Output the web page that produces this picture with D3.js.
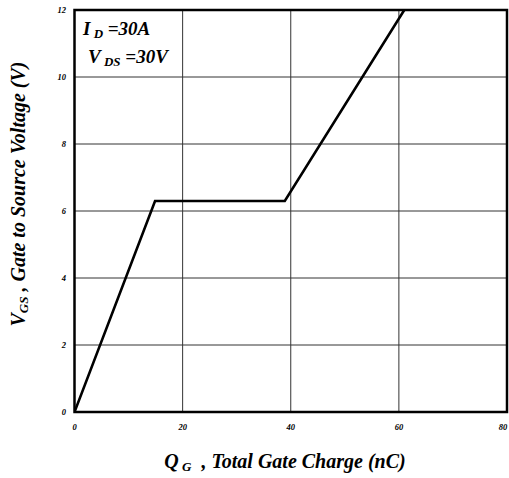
<!DOCTYPE html>
<html><head><meta charset="utf-8">
<script src="https://cdn.jsdelivr.net/npm/d3@7"></script>
<style>body{margin:0;background:#fff}</style>
</head><body>
<svg id="c" width="509" height="478"></svg>
<script>
const qg = [0, 14.9, 38.9, 61];
const vgs = [0, 6.3, 6.3, 12];
const xTicks = [0, 20, 40, 60, 80];
const yTicks = [0, 2, 4, 6, 8, 10, 12];

const svg = d3.select("#c");
const L = 74.5, R = 507, T = 10, B = 412;
const x = d3.scaleLinear().domain([0, 80]).range([L, R]);
const y = d3.scaleLinear().domain([0, 12]).range([B, T]);
const font = "'Liberation Serif','Times New Roman',serif";

const g = svg.append("g");
// grid
g.selectAll(".gx").data(xTicks.slice(1, -1)).enter().append("line")
  .attr("x1", d => x(d)).attr("x2", d => x(d)).attr("y1", T).attr("y2", B)
  .attr("stroke", "#333").attr("stroke-width", 1);
g.selectAll(".gy").data(yTicks.slice(1, -1)).enter().append("line")
  .attr("y1", d => y(d)).attr("y2", d => y(d)).attr("x1", L).attr("x2", R)
  .attr("stroke", "#333").attr("stroke-width", 1);

// curve
const pts = qg.map((q, i) => [q, vgs[i]]);
svg.append("defs").append("clipPath").attr("id", "cp").append("rect")
  .attr("x", L).attr("y", T).attr("width", R - L).attr("height", B - T);
g.append("path").datum(pts)
  .attr("d", d3.line().x(d => x(d[0])).y(d => y(d[1])))
  .attr("fill", "none").attr("stroke", "#000").attr("stroke-width", 2.6)
  .attr("stroke-linejoin", "miter").attr("clip-path", "url(#cp)");

// border
g.append("rect").attr("x", L).attr("y", T).attr("width", R - L).attr("height", B - T)
  .attr("fill", "none").attr("stroke", "#000").attr("stroke-width", 2.5);

// tick labels
svg.selectAll(".yt").data(yTicks).enter().append("text")
  .attr("x", 66).attr("y", d => y(d) + 3)
  .attr("text-anchor", "end").attr("font-family", font).attr("font-size", 8.5)
  .attr("font-weight", "bold").attr("font-style", "italic").text(d => d);
svg.selectAll(".xt").data(xTicks).enter().append("text")
  .attr("x", d => Math.min(x(d), 503)).attr("y", 430)
  .attr("text-anchor", "middle").attr("font-family", font).attr("font-size", 8.5)
  .attr("font-weight", "bold").attr("font-style", "italic").text(d => d);

// axis titles
const xt = svg.append("text").attr("x", 285).attr("y", 468).attr("text-anchor", "middle")
  .attr("font-family", font).attr("font-size", 20).attr("font-weight", "bold").attr("font-style", "italic");
xt.append("tspan").text("Q");
xt.append("tspan").attr("font-size", 13).attr("dy", 3).text(" G");
xt.append("tspan").attr("dy", -3).text("\u00a0\u00a0, Total Gate Charge (nC)");

const yt = svg.append("text").attr("transform", "translate(25,194) rotate(-90)").attr("text-anchor", "middle")
  .attr("font-family", font).attr("font-size", 20).attr("font-weight", "bold").attr("font-style", "italic");
yt.append("tspan").text("V");
yt.append("tspan").attr("font-size", 13).attr("dy", 3).text("GS");
yt.append("tspan").attr("dy", -3).text(" , Gate to Source Voltage (V)");

// annotations
const a1 = svg.append("text").attr("x", 83).attr("y", 35)
  .attr("font-family", font).attr("font-size", 19).attr("font-weight", "bold").attr("font-style", "italic");
a1.append("tspan").text("I");
a1.append("tspan").attr("font-size", 13).attr("dy", 3).text(" D");
a1.append("tspan").attr("dy", -3).text(" =30A");
const a2 = svg.append("text").attr("x", 88).attr("y", 63)
  .attr("font-family", font).attr("font-size", 19).attr("font-weight", "bold").attr("font-style", "italic");
a2.append("tspan").text("V");
a2.append("tspan").attr("font-size", 13).attr("dy", 3).text(" DS");
a2.append("tspan").attr("dy", -3).text(" =30V");
</script>
</body></html>
